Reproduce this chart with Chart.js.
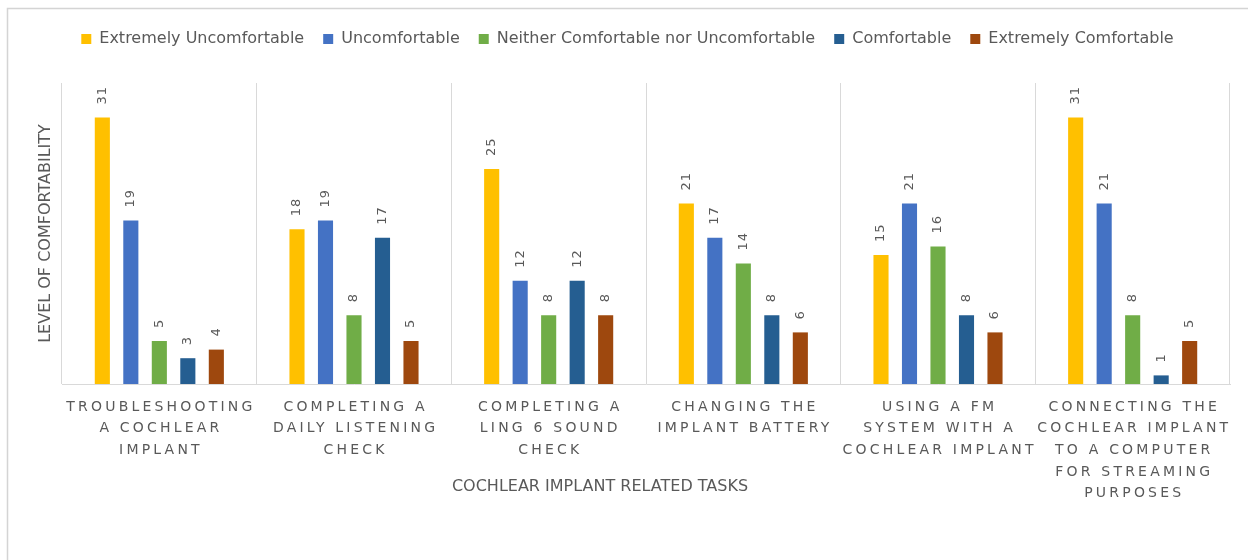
<!DOCTYPE html>
<html>
<head>
<meta charset="utf-8">
<script src="https://cdn.jsdelivr.net/npm/chart.js@4/dist/chart.umd.min.js"></script>
<style>
html,body{margin:0;padding:0;background:#ffffff;}
#wrap{width:1248px;height:560px;position:relative;}
</style>
</head>
<body>
<div id="wrap"><canvas id="c" width="1248" height="560"></canvas></div>
<script>
// ---- data ----
const categories = [
  ['TROUBLESHOOTING', 'A COCHLEAR', 'IMPLANT'],
  ['COMPLETING A', 'DAILY LISTENING', 'CHECK'],
  ['COMPLETING A', 'LING 6 SOUND', 'CHECK'],
  ['CHANGING THE', 'IMPLANT BATTERY'],
  ['USING A FM', 'SYSTEM WITH A', 'COCHLEAR IMPLANT'],
  ['CONNECTING THE', 'COCHLEAR IMPLANT', 'TO A COMPUTER', 'FOR STREAMING', 'PURPOSES']
];
const seriesNames = [
  'Extremely Uncomfortable',
  'Uncomfortable',
  'Neither Comfortable nor Uncomfortable',
  'Comfortable',
  'Extremely Comfortable'
];
const extremelyUncomfortable = [31, 18, 25, 21, 15, 31];
const uncomfortable          = [19, 19, 12, 17, 21, 21];
const neitherNor             = [5, 8, 8, 14, 16, 8];
const comfortable            = [3, 17, 12, 8, 8, 1];
const extremelyComfortable   = [4, 5, 8, 6, 6, 5];
const yAxisTitle = 'LEVEL OF COMFORTABILITY';
const xAxisTitle = 'COCHLEAR IMPLANT RELATED TASKS';
const yMin = 0, yMax = 35;

// ---- styles ----
const seriesColors = ['#FFC000', '#4472C4', '#70AD47', '#255E91', '#9E480E'];
const seriesValues = [extremelyUncomfortable, uncomfortable, neitherNor, comfortable, extremelyComfortable];
const textColor = '#595959';
const gridColor = '#d9d9d9';
const FONT = 'DejaVu Sans';

const datasets = seriesNames.map((name, i) => ({
  label: name,
  data: seriesValues[i],
  backgroundColor: seriesColors[i],
  borderWidth: 0,
  categoryPercentage: 0.732,
  barPercentage: 0.53
}));

const legendSpacer = {
  id: 'legendSpacer',
  beforeInit(chart) {
    const origFit = chart.legend.fit;
    chart.legend.fit = function () {
      origFit.call(this);
      this.height += 26;
    };
  }
};

const frame = {
  id: 'frame',
  beforeDraw(chart) {
    const ctx = chart.ctx;
    ctx.save();
    ctx.fillStyle = '#ffffff';
    ctx.fillRect(0, 0, chart.width, chart.height);
    ctx.strokeStyle = '#d4d4d4';
    ctx.lineWidth = 1.5;
    ctx.strokeRect(7.5, 8.5, 1400, 700);
    ctx.restore();
  }
};

const valueLabels = {
  id: 'valueLabels',
  afterDatasetsDraw(chart) {
    const ctx = chart.ctx;
    ctx.save();
    ctx.font = '13px "' + FONT + '"';
    ctx.fillStyle = textColor;
    ctx.textAlign = 'left';
    ctx.textBaseline = 'middle';
    try { ctx.letterSpacing = '1px'; } catch (e) {}
    chart.data.datasets.forEach((ds, di) => {
      const meta = chart.getDatasetMeta(di);
      meta.data.forEach((bar, i) => {
        ctx.save();
        ctx.translate(bar.x, bar.y - 13);
        ctx.rotate(-Math.PI / 2);
        ctx.fillText(String(ds.data[i]), 0, 0);
        ctx.restore();
      });
    });
    ctx.restore();
  }
};

const categoryLabels = {
  id: 'categoryLabels',
  afterDraw(chart) {
    const ctx = chart.ctx;
    const xs = chart.scales.x;
    const area = chart.chartArea;
    ctx.save();
    ctx.fillStyle = textColor;
    ctx.textAlign = 'center';
    ctx.textBaseline = 'middle';
    ctx.font = '14px "' + FONT + '"';
    const spacing = 3.2;
    try { ctx.letterSpacing = spacing + 'px'; } catch (e) {}
    categories.forEach((lines, i) => {
      const x = xs.getPixelForValue(i) + spacing / 2;
      lines.forEach((line, k) => {
        ctx.fillText(line, x, area.bottom + 23 + k * 21.7);
      });
    });
    try { ctx.letterSpacing = '0px'; } catch (e) {}
    ctx.font = '16px "' + FONT + '"';
    ctx.fillText(xAxisTitle, 600, area.bottom + 103);
    ctx.restore();
  }
};

new Chart(document.getElementById('c'), {
  type: 'bar',
  data: { labels: categories.map(c => c.join(' ')), datasets },
  options: {
    responsive: false,
    animation: false,
    layout: { padding: { left: 25, right: 18, top: 12, bottom: 176 } },
    plugins: {
      legend: {
        display: true,
        position: 'top',
        align: 'center',
        labels: {
          boxWidth: 10,
          boxHeight: 10,
          padding: 19,
          color: textColor,
          font: { family: FONT, size: 16 }
        }
      },
      tooltip: { enabled: false }
    },
    scales: {
      x: {
        offset: true,
        grid: { display: true, offset: true, color: gridColor, drawTicks: false, lineWidth: 1 },
        border: { display: true, color: gridColor, width: 1 },
        ticks: { display: false }
      },
      y: {
        min: yMin,
        max: yMax,
        grid: { display: false },
        border: { display: false },
        ticks: { display: false },
        title: {
          display: true,
          text: yAxisTitle,
          color: textColor,
          font: { family: FONT, size: 16 },
          padding: { top: 11.4, bottom: -1.6 }
        }
      }
    }
  },
  plugins: [legendSpacer, frame, valueLabels, categoryLabels]
});
</script>
</body>
</html>
